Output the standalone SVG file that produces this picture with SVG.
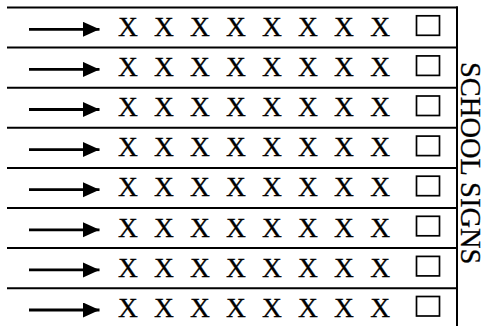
<svg xmlns="http://www.w3.org/2000/svg" width="492" height="326" viewBox="0 0 492 326">
<style>
.ln{stroke:#000;stroke-width:2;fill:none}
.xs{font-family:'Liberation Serif','DejaVu Serif',serif;font-size:27.5px;fill:#000;stroke:#000;stroke-width:0.3}
.box{fill:#fff;stroke:#000;stroke-width:1.7}
.arr{stroke:#000;stroke-width:2.8;fill:none}
.title{font-family:'Liberation Serif','DejaVu Serif',serif;font-size:28.5px;fill:#000;stroke:#000;stroke-width:0.3}
</style>
<defs>
<marker id="ah" markerUnits="userSpaceOnUse" markerWidth="18" markerHeight="16" refX="16.5" refY="7.5" orient="auto">
<polygon points="0,0 16.5,7.5 0,15" fill="#000"/>
</marker>
</defs>
<g id="frame">
<line class="ln" x1="457" y1="6.5" x2="457" y2="326"/>
<line class="ln" x1="7" y1="7.5" x2="458" y2="7.5"/>
<line class="ln" x1="7" y1="47.6" x2="457" y2="47.6"/>
<line class="ln" x1="7" y1="87.7" x2="457" y2="87.7"/>
<line class="ln" x1="7" y1="127.8" x2="457" y2="127.8"/>
<line class="ln" x1="7" y1="167.9" x2="457" y2="167.9"/>
<line class="ln" x1="7" y1="208" x2="457" y2="208"/>
<line class="ln" x1="7" y1="248.1" x2="457" y2="248.1"/>
<line class="ln" x1="7" y1="288.2" x2="457" y2="288.2"/>
</g>
<g id="connectors">
<line class="arr" x1="29" y1="29.3" x2="99.5" y2="29.3" marker-end="url(#ah)"/>
<line class="arr" x1="29" y1="69.4" x2="99.5" y2="69.4" marker-end="url(#ah)"/>
<line class="arr" x1="29" y1="109.5" x2="99.5" y2="109.5" marker-end="url(#ah)"/>
<line class="arr" x1="29" y1="149.6" x2="99.5" y2="149.6" marker-end="url(#ah)"/>
<line class="arr" x1="29" y1="189.7" x2="99.5" y2="189.7" marker-end="url(#ah)"/>
<line class="arr" x1="29" y1="229.8" x2="99.5" y2="229.8" marker-end="url(#ah)"/>
<line class="arr" x1="29" y1="269.9" x2="99.5" y2="269.9" marker-end="url(#ah)"/>
<line class="arr" x1="29" y1="310" x2="99.5" y2="310" marker-end="url(#ah)"/>
</g>
<g id="row1"><text class="xs" x="118" y="36" textLength="272" lengthAdjust="spacing">X X X X X X X X</text><rect class="box" x="416.5" y="15.8" width="23" height="19.5"/></g>
<g id="row2"><text class="xs" x="118" y="76.1" textLength="272" lengthAdjust="spacing">X X X X X X X X</text><rect class="box" x="416.5" y="55.9" width="23" height="19.5"/></g>
<g id="row3"><text class="xs" x="118" y="116.2" textLength="272" lengthAdjust="spacing">X X X X X X X X</text><rect class="box" x="416.5" y="96" width="23" height="19.5"/></g>
<g id="row4"><text class="xs" x="118" y="156.3" textLength="272" lengthAdjust="spacing">X X X X X X X X</text><rect class="box" x="416.5" y="136.1" width="23" height="19.5"/></g>
<g id="row5"><text class="xs" x="118" y="196.4" textLength="272" lengthAdjust="spacing">X X X X X X X X</text><rect class="box" x="416.5" y="176.2" width="23" height="19.5"/></g>
<g id="row6"><text class="xs" x="118" y="236.5" textLength="272" lengthAdjust="spacing">X X X X X X X X</text><rect class="box" x="416.5" y="216.3" width="23" height="19.5"/></g>
<g id="row7"><text class="xs" x="118" y="276.6" textLength="272" lengthAdjust="spacing">X X X X X X X X</text><rect class="box" x="416.5" y="256.4" width="23" height="19.5"/></g>
<g id="row8"><text class="xs" x="118" y="316.7" textLength="272" lengthAdjust="spacing">X X X X X X X X</text><rect class="box" x="416.5" y="296.5" width="23" height="19.5"/></g>
<g id="label"><text class="title" transform="translate(460.5,62) rotate(90)">SCHOOL SIGNS</text></g>
</svg>
